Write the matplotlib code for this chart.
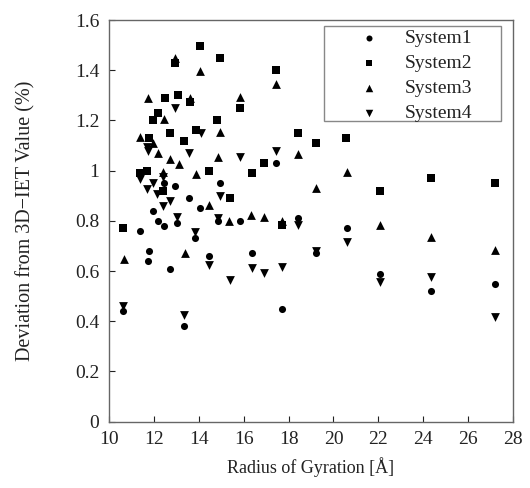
import numpy as np
import matplotlib
matplotlib.use('Agg')
import matplotlib.pyplot as plt
from matplotlib.patches import Rectangle

plt.rcParams['font.family'] = ['Liberation Serif', 'DejaVu Serif']

# System1 (circles)
s1_x = [10.63, 11.38, 11.79, 11.72, 11.97, 12.16, 12.46, 12.46, 12.71, 12.93,
        13.05, 13.35, 13.57, 13.82, 14.04, 14.46, 14.93, 14.86, 15.82, 16.37,
        17.42, 17.72, 18.41, 19.23, 20.61, 22.09, 24.34, 27.19]
s1_y = [0.44, 0.76, 0.68, 0.64, 0.84, 0.80, 0.95, 0.78, 0.61, 0.94,
        0.79, 0.38, 0.89, 0.73, 0.85, 0.66, 0.95, 0.80, 0.80, 0.67,
        1.03, 0.45, 0.81, 0.67, 0.77, 0.59, 0.52, 0.55]

# System2 (squares)
s2_x = [10.64, 11.38, 11.67, 11.79, 11.97, 12.19, 12.41, 12.49, 12.71, 12.93,
        13.08, 13.33, 13.60, 13.87, 14.04, 14.46, 14.83, 14.93, 15.38, 15.82,
        16.37, 16.91, 17.42, 17.72, 18.41, 19.23, 20.56, 22.09, 24.34, 27.19]
s2_y = [0.77, 0.99, 1.00, 1.13, 1.20, 1.23, 0.92, 1.29, 1.15, 1.43,
        1.30, 1.12, 1.275, 1.16, 1.495, 1.00, 1.20, 1.45, 0.89, 1.25,
        0.99, 1.03, 1.40, 0.785, 1.15, 1.11, 1.13, 0.92, 0.97, 0.95]

# System3 (up triangles)
s3_x = [10.68, 11.38, 11.75, 11.97, 12.19, 12.41, 12.46, 12.71, 12.93, 13.13,
        13.40, 13.60, 13.87, 14.04, 14.44, 14.86, 14.93, 15.35, 15.82, 16.34,
        16.91, 17.42, 17.72, 18.41, 19.23, 20.61, 22.09, 24.34, 27.19]
s3_y = [0.65, 1.135, 1.29, 1.11, 1.07, 0.995, 1.205, 1.045, 1.45, 1.025,
        0.67, 1.29, 0.985, 1.395, 0.865, 1.056, 1.155, 0.80, 1.295, 0.824,
        0.815, 1.345, 0.80, 1.065, 0.93, 0.995, 0.785, 0.735, 0.685]

# System4 (down triangles)
s4_x = [10.63, 11.38, 11.67, 11.75, 11.67, 11.97, 12.14, 12.41, 12.41, 12.71,
        12.93, 13.05, 13.35, 13.57, 13.82, 14.09, 14.46, 14.86, 14.93, 15.38,
        15.82, 16.37, 16.91, 17.42, 17.72, 18.41, 19.23, 20.61, 22.09, 24.34, 27.19]
s4_y = [0.46, 0.965, 1.096, 1.078, 0.926, 0.95, 0.906, 0.976, 0.86, 0.88,
        1.25, 0.815, 0.425, 1.07, 0.757, 1.15, 0.624, 0.81, 0.897, 0.565,
        1.056, 0.614, 0.594, 1.077, 0.615, 0.785, 0.68, 0.717, 0.555, 0.575, 0.415]

fig = plt.figure(figsize=(5.30, 4.88), dpi=100)
ax = fig.add_axes([0.2057, 0.1359, 0.7623, 0.8231])

ax.scatter(s1_x, s1_y, marker='o', s=26, color='black', linewidths=0, label='System1')
ax.scatter(s2_x, s2_y, marker='s', s=26, color='black', linewidths=0, label='System2')
ax.scatter(s3_x, s3_y, marker='^', s=40, color='black', linewidths=0, label='System3')
ax.scatter(s4_x, s4_y, marker='v', s=40, color='black', linewidths=0, label='System4')

ax.set_xlim(10, 28)
ax.set_ylim(0, 1.6)
ax.set_xticks(np.arange(10, 29, 2))
ax.set_yticks(np.arange(0, 1.61, 0.2))
ax.set_yticklabels(['0', '0.2', '0.4', '0.6', '0.8', '1', '1.2', '1.4', '1.6'])
ax.tick_params(direction='in', length=4, width=0.8, labelsize=14, colors='#222222', pad=7)

for sp in ax.spines.values():
    sp.set_color('#666666')
    sp.set_linewidth(1.0)

ax.set_xlabel('Radius of Gyration [Å]', fontsize=13, color='#222222', labelpad=6)
ax.set_ylabel('Deviation from 3D\u2212IET Value (%)', fontsize=14.5, color='#222222', labelpad=28)

# legend box drawn separately so it can be wider than the entries
ax.add_patch(Rectangle((0.532, 0.749), 0.438, 0.236, transform=ax.transAxes,
                       facecolor='white', edgecolor='#888888', linewidth=1.0, zorder=4))
leg = ax.legend(loc='upper left', bbox_to_anchor=(0.5955, 0.9775), borderaxespad=0,
                fontsize=14, handlelength=2.0, handletextpad=0.85, labelspacing=0.385,
                borderpad=0.0, frameon=False, markerscale=0.85)
leg.set_zorder(5)
for t in leg.get_texts():
    t.set_color('#222222')

fig.savefig('out.png', dpi=100)
